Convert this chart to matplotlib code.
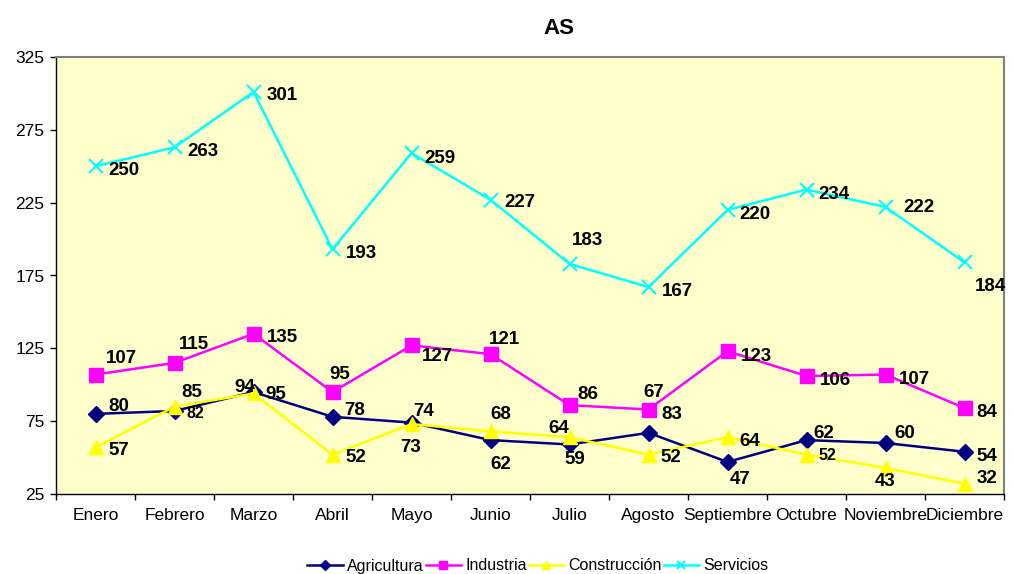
import matplotlib.pyplot as plt
import numpy as np

plt.rcParams["font.family"] = ["Liberation Sans", "DejaVu Sans"]

months = ["Enero", "Febrero", "Marzo", "Abril", "Mayo", "Junio", "Julio",
          "Agosto", "Septiembre", "Octubre", "Noviembre", "Diciembre"]
agricultura = [80, 82, 95, 78, 74, 62, 59, 67, 47, 62, 60, 54]
industria = [107, 115, 135, 95, 127, 121, 86, 83, 123, 106, 107, 84]
construccion = [57, 85, 94, 52, 73, 68, 64, 52, 64, 52, 43, 32]
servicios = [250, 263, 301, 193, 259, 227, 183, 167, 220, 234, 222, 184]
y_ticks = [25, 75, 125, 175, 225, 275, 325]

# label placement (pixels: right, down) relative to each point, as in the original
offsets = {
    "Agricultura": [(13, -9), (12, 1), (12, 0), (12, -8), (2, -13), (0, 22),
                    (-5, 13), (-5, -42), (2, 16), (7, -9), (9, -12), (12, 3)],
    "Industria": [(10, -18), (4, -20), (13, 2), (-3, -20), (10, 9), (-2, -17),
                  (8, -13), (13, 3), (13, 3), (13, 2), (13, 3), (12, 2)],
    "Construcción": [(13, 1), (7, -16), (-19, -8), (13, 1), (-11, 21), (0, -19),
                     (-21, -11), (12, 1), (12, 2), (12, -1), (-11, 12), (12, -7)],
    "Servicios": [(13, 2), (13, 2), (13, 2), (13, 2), (13, 3), (14, 1),
                  (2, -25), (13, 2), (12, 3), (12, 3), (18, -2), (10, 22)],
}
small_labels = {("Agricultura", 1), ("Construcción", 9)}

series = [
    ("Agricultura", agricultura, "#000080", "D", 8, 1),
    ("Industria", industria, "#FF00FF", "s", 9.5, 1),
    ("Construcción", construccion, "#FFFF00", "^", 10, 1),
    ("Servicios", servicios, "#00FFFF", "x", 10, 1.5),
]

fig = plt.figure(figsize=(10.14, 5.74), dpi=100)
ax = fig.add_axes([56 / 1014, 80 / 574, 948 / 1014, 437 / 574])
ax.set_facecolor("#FFFFCC")

x = np.arange(len(months))
for name, vals, color, marker, ms, mew in series:
    ax.plot(x, vals, color=color, lw=1.8, marker=marker, markersize=ms,
            markeredgewidth=mew, markeredgecolor=color, label=name)
    for i, v in enumerate(vals):
        dx, dy = offsets[name][i]
        size = 11.5 if (name, i) in small_labels else 13.5
        ax.annotate(str(v), (x[i], v), xytext=(dx, -(dy + 2)),
                    textcoords="offset pixels", ha="left", va="center",
                    fontsize=size, fontweight="bold", color="black")

ax.set_xlim(-0.5, len(months) - 0.5)
ax.set_ylim(25, 325)
ax.set_yticks(y_ticks)
ax.tick_params(axis="y", labelsize=12.5, length=4.3, width=1, direction="out", pad=4)

ax.set_xticks(x)
ax.set_xticklabels(months)
ax.set_xticks(np.arange(-0.5, len(months)), minor=True)
ax.tick_params(axis="x", which="major", length=0, labelsize=12.5, pad=10)
ax.tick_params(axis="x", which="minor", length=4.3, width=1, direction="out")

for side in ("top", "right"):
    ax.spines[side].set_color("#808080")
    ax.spines[side].set_linewidth(1.5)
for side in ("left", "bottom"):
    ax.spines[side].set_color("black")
    ax.spines[side].set_linewidth(1)

fig.text(559 / 1014, 1 - 28 / 574, "AS", ha="center", va="center",
         fontsize=16, fontweight="bold")

fig.legend(loc="center", bbox_to_anchor=(538 / 1014, 8 / 574), ncol=4,
           frameon=False, fontsize=11.5, handlelength=2.2, handletextpad=0.3,
           columnspacing=0.1, markerscale=0.6)

fig.savefig("out.png", dpi=100, facecolor="white")
plt.close(fig)
